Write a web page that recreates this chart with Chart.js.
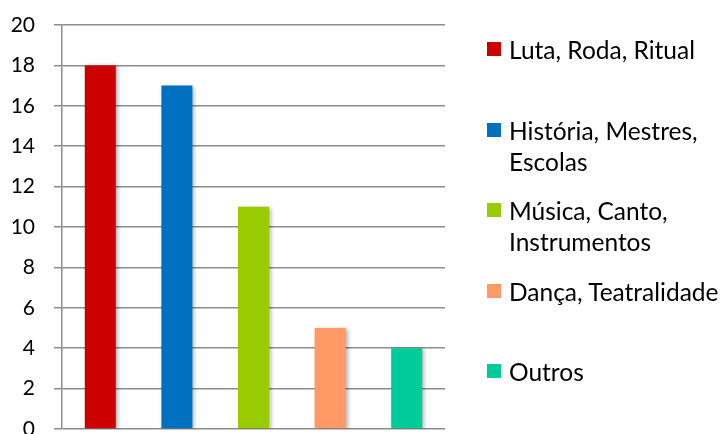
<!DOCTYPE html>
<html>
<head>
<meta charset="utf-8">
<script src="https://cdn.jsdelivr.net/npm/chart.js@4.4.1/dist/chart.umd.min.js"></script>
<style>
    html, body { margin: 0; padding: 0; background: #fff; overflow: hidden; }
    .wrap { position: relative; width: 727px; height: 434px; overflow: hidden; }
    .chart-box { position: absolute; left: 0; top: 0; width: 727px; height: 446px; }
    .legend { position: absolute; left: 487px; top: 0; font-family: Lato, sans-serif; font-size: 24.5px; line-height: 31px; color: #000; }
    .legend-item { position: absolute; left: 0; white-space: nowrap; }
    .legend-item .swatch { position: absolute; left: 0; top: 8px; width: 14px; height: 14px; }
    .legend-item .text { position: absolute; left: 22px; top: 0; }
</style>
</head>
<body>
<div class="wrap">
    <div class="chart-box"><canvas id="barChart" width="727" height="446"></canvas></div>
    <div class="legend"></div>
</div>
<script>
// Categories (legend text split in lines) and counts
const categories = [
    ['Luta, Roda, Ritual'],
    ['História, Mestres,', 'Escolas'],
    ['Música, Canto,', 'Instrumentos'],
    ['Dança, Teatralidade'],
    ['Outros']
];
const counts = [18, 17, 11, 5, 4];
const barColors = ['#CC0000', '#0070C0', '#99CC00', '#FF9966', '#00CC99'];
const yTicks = [0, 2, 4, 6, 8, 10, 12, 14, 16, 18, 20];

// soft shadow behind the bars
const barShadow = {
    id: 'barShadow',
    beforeDatasetsDraw(chart) {
        const ctx = chart.ctx;
        ctx.save();
        ctx.shadowColor = 'rgba(0, 0, 0, 0.3)';
        ctx.shadowBlur = 4;
        ctx.shadowOffsetX = 2;
        ctx.shadowOffsetY = 1;
    },
    afterDatasetsDraw(chart) {
        chart.ctx.restore();
    }
};

function buildLegend() {
    const legendDiv = document.querySelector('.legend');
    legendDiv.innerHTML = "";
    for (let i = 0; i < categories.length; i++) {
        legendDiv.innerHTML += `
        <div class="legend-item" style="top:${34 + i * 80.5}px">
            <div class="swatch" style="background:${barColors[i]}"></div>
            <div class="text">${categories[i].join('<br>')}</div>
        </div>
        `
    }
}

const ctx = document.getElementById('barChart').getContext('2d');
const barChart = new Chart(ctx, {
    type: 'bar',
    data: {
        labels: categories.map(c => c.join(' ')),
        datasets: [{
            data: counts,
            backgroundColor: barColors,
            borderWidth: 0,
            barPercentage: 0.405,
            categoryPercentage: 1
        }]
    },
    options: {
        responsive: false,
        animation: false,
        layout: {
            padding: { left: 0, top: 25, right: 282, bottom: 17 }
        },
        plugins: {
            legend: { display: false },
            tooltip: { enabled: false }
        },
        scales: {
            x: { display: false },
            y: {
                min: 0,
                max: 20,
                afterBuildTicks: (scale) => {
                    scale.ticks = yTicks.map(v => ({ value: v }));
                },
                afterFit: (scale) => {
                    // fixed axis width, and let the bottom label run off the edge
                    scale.width = 62;
                    scale.paddingTop = 0;
                    scale.paddingBottom = 0;
                },
                ticks: {
                    color: '#000',
                    padding: 19,
                    font: { family: 'Lato', size: 21 }
                },
                grid: {
                    color: '#8c8c8c',
                    lineWidth: 1.5,
                    tickLength: 8
                },
                border: { color: '#8c8c8c', width: 1.5 }
            }
        }
    },
    plugins: [barShadow]
});

buildLegend();
</script>
</body>
</html>
